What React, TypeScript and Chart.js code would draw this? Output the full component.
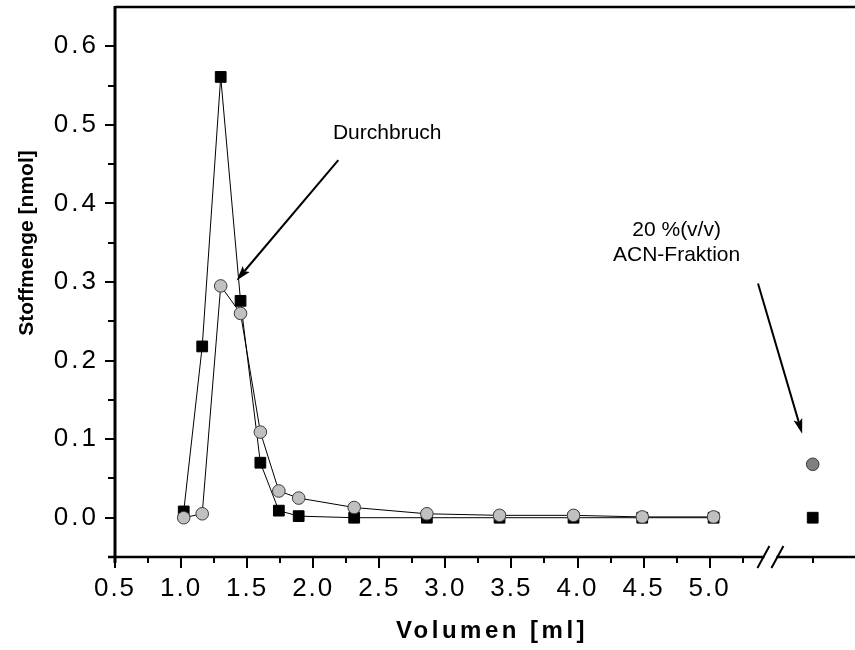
import React, { useEffect, useRef } from 'react';
import { Chart, registerables } from 'chart.js';

Chart.register(...registerables);

// ---- data ----
const volumes = [1.02, 1.16, 1.3, 1.45, 1.6, 1.74, 1.89, 2.31, 2.86, 3.41, 3.97, 4.49, 5.03];
const squareValues = [0.008, 0.218, 0.561, 0.276, 0.07, 0.009, 0.002, 0.0, 0.0, 0.0, 0.0, 0.0, 0.0];
const circleValues = [0.0, 0.005, 0.295, 0.26, 0.109, 0.034, 0.025, 0.013, 0.005, 0.003, 0.003, 0.001, 0.001];
const acnVolume = [5.78];
const acnSquareValues = [0.0];
const acnCircleValues = [0.068];

// ---- axes ----
const xMajorTicks = [0.5, 1.0, 1.5, 2.0, 2.5, 3.0, 3.5, 4.0, 4.5, 5.0];
const xMinorTicks = [0.75, 1.25, 1.75, 2.25, 2.75, 3.25, 3.75, 4.25, 4.75, 5.25, 5.78];
const yMajorTicks = [0.0, 0.1, 0.2, 0.3, 0.4, 0.5, 0.6];
const yMinorTicks = [0.05, 0.15, 0.25, 0.35, 0.45, 0.55];
const xMin = 0.5;
const xMax = 6.1;
const yMin = -0.05;
const yMax = 0.65;
const xBreak = 5.46;

const xTitle = 'Volumen [ml]';
const yTitle = 'Stoffmenge [nmol]';
const note1 = 'Durchbruch';
const note2Lines = ['20 %(v/v)', 'ACN-Fraktion'];

const FONT = '"Liberation Sans", Arial, Helvetica, sans-serif';

function arrow(ctx: CanvasRenderingContext2D, x1: number, y1: number, x2: number, y2: number) {
  const ang = Math.atan2(y2 - y1, x2 - x1);
  const hl = 15;
  const hw = 4.5;
  const bx = x2 - Math.cos(ang) * hl * 0.8;
  const by = y2 - Math.sin(ang) * hl * 0.8;
  ctx.save();
  ctx.strokeStyle = '#000';
  ctx.fillStyle = '#000';
  ctx.lineWidth = 2;
  ctx.beginPath();
  ctx.moveTo(x1, y1);
  ctx.lineTo(bx, by);
  ctx.stroke();
  ctx.beginPath();
  ctx.moveTo(x2, y2);
  ctx.lineTo(x2 - Math.cos(ang) * hl + Math.sin(ang) * hw, y2 - Math.sin(ang) * hl - Math.cos(ang) * hw);
  ctx.lineTo(bx, by);
  ctx.lineTo(x2 - Math.cos(ang) * hl - Math.sin(ang) * hw, y2 - Math.sin(ang) * hl + Math.cos(ang) * hw);
  ctx.closePath();
  ctx.fill();
  ctx.restore();
}

function spaceScale(s: any, spacing: string) {
  if (s._spacedDraw) return;
  const orig = s.draw;
  s.draw = function (area: any) {
    const c = this.ctx;
    const prev = c.letterSpacing;
    c.letterSpacing = spacing;
    orig.call(this, area);
    c.letterSpacing = prev || '0px';
  };
  s._spacedDraw = true;
}

const decorPlugin = {
  id: 'decor',
  afterDraw(chart: any) {
    const ctx: CanvasRenderingContext2D = chart.ctx;
    const xs = chart.scales.x;
    const ys = chart.scales.y;
    const { left, right, top, bottom } = chart.chartArea;
    ctx.save();
    ctx.strokeStyle = '#000';
    ctx.lineCap = 'butt';

    // top line
    ctx.lineWidth = 2.5;
    ctx.beginPath();
    ctx.moveTo(left, top);
    ctx.lineTo(right, top);
    ctx.stroke();

    // y axis line
    ctx.lineWidth = 3;
    ctx.beginPath();
    ctx.moveTo(left, top - 1);
    ctx.lineTo(left, bottom + 6);
    ctx.stroke();

    // x axis line with break
    const bp = xs.getPixelForValue(xBreak);
    ctx.lineWidth = 2.5;
    ctx.beginPath();
    ctx.moveTo(left - 7, bottom);
    ctx.lineTo(bp - 6, bottom);
    ctx.moveTo(bp + 6, bottom);
    ctx.lineTo(right, bottom);
    ctx.stroke();
    ctx.lineWidth = 2;
    ctx.beginPath();
    ctx.moveTo(bp - 13, bottom + 11);
    ctx.lineTo(bp - 1, bottom - 11);
    ctx.moveTo(bp + 1, bottom + 11);
    ctx.lineTo(bp + 13, bottom - 11);
    ctx.stroke();

    // x ticks
    ctx.lineWidth = 2;
    ctx.beginPath();
    xMajorTicks.forEach((v) => {
      const p = Math.round(xs.getPixelForValue(v));
      ctx.moveTo(p, bottom);
      ctx.lineTo(p, bottom + 11);
    });
    xMinorTicks.forEach((v) => {
      const p = Math.round(xs.getPixelForValue(v));
      ctx.moveTo(p, bottom);
      ctx.lineTo(p, bottom + 6);
    });
    // y ticks
    yMajorTicks.forEach((v) => {
      const p = Math.round(ys.getPixelForValue(v));
      ctx.moveTo(left, p);
      ctx.lineTo(left - 10, p);
    });
    yMinorTicks.forEach((v) => {
      const p = Math.round(ys.getPixelForValue(v));
      ctx.moveTo(left, p);
      ctx.lineTo(left - 7, p);
    });
    ctx.stroke();

    // annotations
    arrow(ctx, xs.getPixelForValue(2.19), ys.getPixelForValue(0.455), xs.getPixelForValue(1.42), ys.getPixelForValue(0.302));
    arrow(ctx, xs.getPixelForValue(5.366), ys.getPixelForValue(0.298), xs.getPixelForValue(5.7), ys.getPixelForValue(0.107));

    ctx.fillStyle = '#000';
    ctx.textAlign = 'center';
    ctx.textBaseline = 'middle';
    ctx.font = `21px ${FONT}`;
    ctx.fillText(note1, xs.getPixelForValue(2.56), ys.getPixelForValue(0.489));
    ctx.fillText(note2Lines[0], xs.getPixelForValue(4.75), ys.getPixelForValue(0.366));
    ctx.fillText(note2Lines[1], xs.getPixelForValue(4.75), ys.getPixelForValue(0.334));

    // axis titles
    ctx.font = `bold 24px ${FONT}`;
    (ctx as any).letterSpacing = '3.5px';
    ctx.fillText(xTitle, 492, 631);
    (ctx as any).letterSpacing = '0px';
    ctx.save();
    ctx.translate(27, 243);
    ctx.rotate(-Math.PI / 2);
    ctx.font = `bold 21px ${FONT}`;
    ctx.fillText(yTitle, 0, 0);
    ctx.restore();

    ctx.restore();
  },
};

export default function App() {
  const ref = useRef<HTMLCanvasElement | null>(null);
  useEffect(() => {
    document.body.style.margin = '0';
    const canvas = ref.current;
    if (!canvas) return;
    const pts = (xv: number[], yv: number[]) => xv.map((x, i) => ({ x, y: yv[i] }));
    const chart = new Chart(canvas, {
      type: 'scatter',
      data: {
        datasets: [
          {
            label: 'Kreise',
            data: pts(volumes, circleValues),
            showLine: true,
            borderColor: '#000',
            borderWidth: 1,
            pointStyle: 'circle',
            pointRadius: 6.3,
            pointBackgroundColor: '#c0c0c0',
            pointBorderColor: '#3a3a3a',
            pointBorderWidth: 1,
          },
          {
            label: 'Quadrate',
            data: pts(volumes, squareValues),
            showLine: true,
            borderColor: '#000',
            borderWidth: 1,
            pointStyle: 'rect',
            pointRadius: 7.6,
            pointBackgroundColor: '#000',
            pointBorderColor: '#000',
            pointBorderWidth: 1,
          },
          {
            label: 'ACN Kreis',
            data: pts(acnVolume, acnCircleValues),
            showLine: false,
            pointStyle: 'circle',
            pointRadius: 6.3,
            pointBackgroundColor: '#808080',
            pointBorderColor: '#3a3a3a',
            pointBorderWidth: 1,
          },
          {
            label: 'ACN Quadrat',
            data: pts(acnVolume, acnSquareValues),
            showLine: false,
            pointStyle: 'rect',
            pointRadius: 7.6,
            pointBackgroundColor: '#000',
            pointBorderColor: '#000',
            pointBorderWidth: 1,
          },
        ],
      },
      options: {
        animation: false,
        responsive: false,
        devicePixelRatio: 1,
        layout: { autoPadding: false, padding: { top: 7, left: 0, right: 0, bottom: 0 } },
        plugins: { legend: { display: false }, tooltip: { enabled: false } },
        scales: {
          x: {
            type: 'linear',
            min: xMin,
            max: xMax,
            afterBuildTicks: (s: any) => {
              s.ticks = xMajorTicks.map((v) => ({ value: v }));
            },
            afterFit: (s: any) => {
              s.height = 93;
              s.paddingLeft = 0;
              s.paddingRight = 0;
              s.paddingTop = 0;
              s.paddingBottom = 0;
            },
            afterUpdate: (s: any) => spaceScale(s, '2px'),
            ticks: {
              autoSkip: false,
              maxRotation: 0,
              padding: 6,
              color: '#000',
              font: { family: FONT, size: 26 },
              callback: (v: any) => Number(v).toFixed(1),
            },
            grid: { display: true, drawOnChartArea: false, drawTicks: true, tickLength: 10, color: 'transparent', tickColor: 'transparent' },
            border: { display: false },
          },
          y: {
            type: 'linear',
            min: yMin,
            max: yMax,
            afterBuildTicks: (s: any) => {
              s.ticks = yMajorTicks.map((v) => ({ value: v }));
            },
            afterFit: (s: any) => {
              s.width = 115;
              s.paddingLeft = 0;
              s.paddingRight = 0;
              s.paddingTop = 0;
              s.paddingBottom = 0;
            },
            afterUpdate: (s: any) => spaceScale(s, '3px'),
            ticks: {
              autoSkip: false,
              padding: 6,
              color: '#000',
              font: { family: FONT, size: 26 },
              callback: (v: any) => Number(v).toFixed(1),
            },
            grid: { display: true, drawOnChartArea: false, drawTicks: true, tickLength: 10, color: 'transparent', tickColor: 'transparent' },
            border: { display: false },
          },
        },
      },
      plugins: [decorPlugin],
    });
    return () => chart.destroy();
  }, []);
  return <canvas ref={ref} width={855} height={650} style={{ display: 'block' }} />;
}
